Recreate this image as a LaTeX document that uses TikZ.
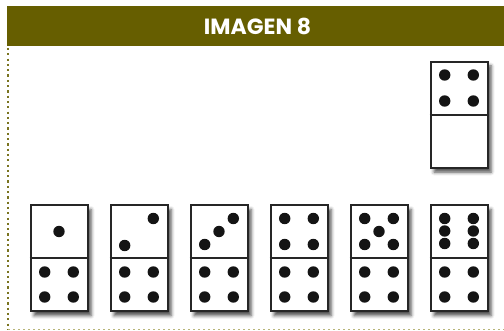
\documentclass[tikz,border=0pt]{standalone}
\usepackage{fontspec}
\newfontfamily\hdrfont{Poppins}
\usetikzlibrary{shadows.blur,calc}
\definecolor{olive}{HTML}{665E00}
\definecolor{dotdark}{HTML}{7A7420}
\definecolor{dotlight}{HTML}{B8B478}
\definecolor{edge}{HTML}{262626}
\tikzset{
  dominobox/.style={draw=edge, line width=2pt, fill=white, inner sep=0pt,
    minimum width=57pt, minimum height=106pt, anchor=north west,
    blur shadow={shadow xshift=3.5pt, shadow yshift=-4pt, shadow blur radius=3.5pt, shadow opacity=70}},
  pip/.style={fill=black!92},
  midline/.style={draw=edge, line width=2pt},
}
\newcommand\pipat[3]{\fill[pip] ($(#1.center)+(#2,#3)$) circle (5.7pt);}
\begin{document}
\begin{tikzpicture}[x=1pt,y=-1pt]
\useasboundingbox (0,0) rectangle (504,331);
% header
\node[fill=olive, minimum width=497pt, minimum height=40pt, inner sep=0pt, anchor=north west] (hdr) at (7,6) {};
\node[text=white, font=\hdrfont\bfseries\fontsize{22}{24}\selectfont, inner sep=0pt] (title) at (257.5,26) {IMAGEN 8};
% borders
\coordinate (lt) at (8,48);
\coordinate (lb) at (8,329.5);
\coordinate (rb) at (504,329.5);
\draw[dotdark, line width=2.2pt, dash pattern=on 2.2pt off 3.1pt] (lt) -- (lb);
\draw[dotlight, line width=1.6pt, dash pattern=on 2pt off 3pt] (lb) -- (rb);
% dominoes
\node[dominobox] (d0) at (429.5,61) {};
\foreach \i in {1,...,6}{
  \node[dominobox] (d\i) at ({29.5+80*(\i-1)},204.5) {};
}
\foreach \n in {0,...,6}{
  \draw[midline] (d\n.west) -- (d\n.east);
}
% top domino: four
\foreach \dx in {-14.3,14.3}{\foreach \dy in {-40,-14}{\pipat{d0}{\dx}{\dy}}}
% bottom halves: four
\foreach \n in {1,...,6}{
  \foreach \dx in {-14.3,14.3}{\foreach \dy in {13.5,38.5}{\pipat{d\n}{\dx}{\dy}}}
}
% d1: one
\pipat{d1}{0}{-27}
% d2: two
\pipat{d2}{14.3}{-40}
\pipat{d2}{-14.3}{-13}
% d3: three
\pipat{d3}{14.3}{-40}
\pipat{d3}{0}{-27}
\pipat{d3}{-14.3}{-14}
% d4: four
\foreach \dx in {-14.3,14.3}{\foreach \dy in {-40,-14}{\pipat{d4}{\dx}{\dy}}}
% d5: five
\foreach \dx in {-14.3,14.3}{\foreach \dy in {-40,-14}{\pipat{d5}{\dx}{\dy}}}
\pipat{d5}{0}{-27}
% d6: six
\foreach \dx in {-14.3,14.3}{\foreach \dy in {-40,-27.5,-15}{\pipat{d6}{\dx}{\dy}}}
\end{tikzpicture}
\end{document}
